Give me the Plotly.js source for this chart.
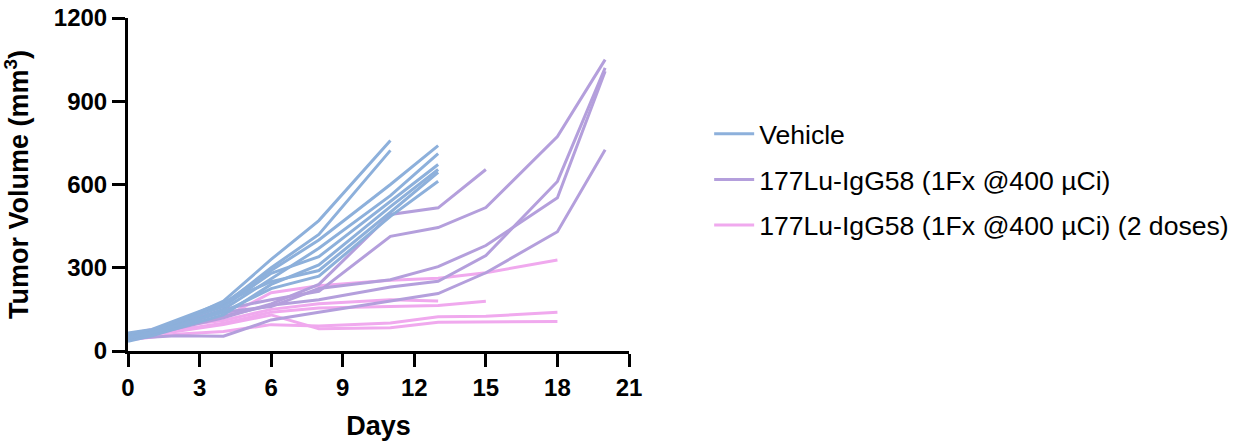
<!DOCTYPE html>
<html>
<head>
<meta charset="utf-8">
<script src="https://cdn.plot.ly/plotly-3.0.1.min.js"></script>
<style>html,body{margin:0;padding:0;background:#fff;}#chart{width:1247px;height:446px;}</style>
</head>
<body>
<div id="chart"></div>
<script>
// Group names (legend labels)
const groupNames = [
  "Vehicle",
  "177Lu-IgG58 (1Fx @400 \u00b5Ci)",
  "177Lu-IgG58 (1Fx @400 \u00b5Ci) (2 doses)"
];
const groupColors = ["#8DB0DB", "#B49FDC", "#F0A9EE"];

// Measurement days
const vehicleDays = [0, 1, 4, 6, 8, 11, 13];
const lu1Days = [0, 2, 4, 6, 8, 11, 13, 15, 18, 20];
const lu2Days = [0, 2, 4, 6, 8, 11, 13, 15, 18];

// Vehicle: individual tumor volumes (mm3)
const vehicle1 = [45, 62, 180, 330, 470, 759];
const vehicle2 = [50, 65, 165, 300, 420, 723];
const vehicle3 = [55, 70, 170, 290, 400, 600, 740];
const vehicle4 = [40, 60, 150, 260, 370, 560, 711];
const vehicle5 = [60, 75, 160, 280, 340, 540, 672];
const vehicle6 = [35, 55, 130, 240, 310, 520, 654];
const vehicle7 = [65, 78, 175, 250, 290, 500, 644];
const vehicle8 = [48, 66, 140, 225, 270, 485, 612];

// 177Lu-IgG58 single dose
const lu1_a = [55, 95, 150, 185, 215, 413, 445, 517, 773, 1050];
const lu1_b = [50, 85, 125, 165, 185, 231, 251, 344, 611, 1020];
const lu1_c = [60, 90, 140, 160, 225, 257, 304, 380, 552, 1008];
const lu1_d = [45, 80, 120, 170, 240, 492, 516, 654];
const lu1_e = [45, 55, 53, 112, 140, 179, 207, 282, 430, 725];

// 177Lu-IgG58 two doses
const lu2_a = [60, 95, 120, 210, 235, 255, 262, 282, 328];
const lu2_b = [55, 90, 110, 150, 170, 185, 180];
const lu2_c = [45, 75, 100, 140, 155, 161, 164, 179];
const lu2_d = [40, 60, 70, 95, 90, 101, 123, 125, 140];
const lu2_e = [50, 70, 95, 130, 80, 84, 104, 105, 106];

const groups = [
  {days: vehicleDays, series: [vehicle1, vehicle2, vehicle3, vehicle4, vehicle5, vehicle6, vehicle7, vehicle8]},
  {days: lu1Days, series: [lu1_a, lu1_b, lu1_c, lu1_d, lu1_e]},
  {days: lu2Days, series: [lu2_a, lu2_b, lu2_c, lu2_d, lu2_e]}
];

const traces = [];
// draw pink first, then purple, then blue on top
[2, 1, 0].forEach(g => {
  groups[g].series.forEach((vals, i) => {
    traces.push({
      x: groups[g].days.slice(0, vals.length),
      y: vals,
      type: "scatter",
      mode: "lines",
      name: groupNames[g],
      legendgroup: groupNames[g],
      legendrank: g + 1,
      showlegend: i === 0,
      line: {color: groupColors[g], width: 3}
    });
  });
});

const axisFont = {family: "Liberation Sans, Arial, sans-serif", size: 24, color: "#000", weight: "bold"};
const titleFont = {family: "Liberation Sans, Arial, sans-serif", size: 27, color: "#000", weight: "bold"};

const layout = {
  width: 1247, height: 446,
  margin: {l: 128, r: 618, t: 18, b: 95},
  paper_bgcolor: "#fff", plot_bgcolor: "#fff",
  showlegend: true,
  legend: {
    x: 1.16, y: 0.515, xanchor: "left", yanchor: "middle",
    font: {family: "Liberation Sans, Arial, sans-serif", size: 26.6, color: "#000"},
    traceorder: "grouped", tracegroupgap: 8, itemwidth: 40,
    bgcolor: "rgba(0,0,0,0)"
  },
  xaxis: {
    range: [0, 21], tickvals: [0, 3, 6, 9, 12, 15, 18, 21],
    showgrid: false, zeroline: false,
    showline: true, linecolor: "#000", linewidth: 3,
    ticks: "outside", ticklen: 13, tickwidth: 3, tickcolor: "#000",
    tickfont: axisFont,
    title: {text: "Days", font: titleFont, standoff: 17}
  },
  yaxis: {
    range: [0, 1200], tickvals: [0, 300, 600, 900, 1200],
    showgrid: false, zeroline: false,
    showline: true, linecolor: "#000", linewidth: 3,
    ticks: "outside", ticklen: 13, tickwidth: 3, tickcolor: "#000",
    tickfont: axisFont,
    title: {text: "Tumor Volume (mm<sup>3</sup>)", font: titleFont, standoff: 20}
  }
};

Plotly.newPlot("chart", traces, layout, {displayModeBar: false, staticPlot: true});
</script>
</body>
</html>
